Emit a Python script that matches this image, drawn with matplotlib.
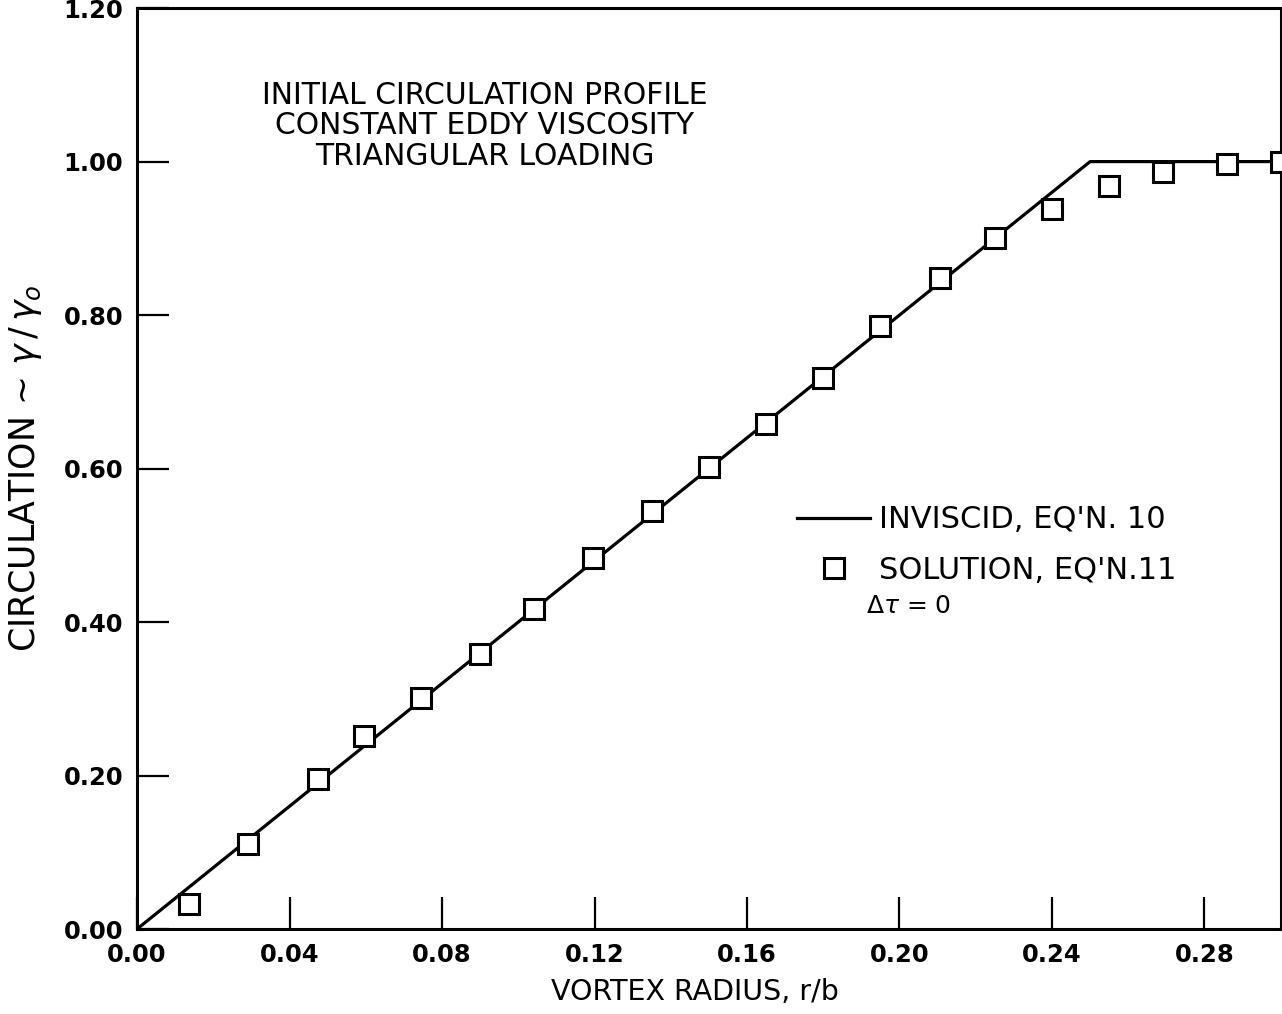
import matplotlib
matplotlib.use("Agg")
import matplotlib.pyplot as plt

# inviscid solution (eq'n 10): linear ramp then constant
inviscid_r = [0.0, 0.25, 0.30]
inviscid_gamma = [0.0, 1.0, 1.0]

# numerical solution (eq'n 11)
solution_r = [0.0135, 0.029, 0.0475, 0.0595, 0.0745, 0.09, 0.104, 0.1195, 0.135,
              0.150, 0.165, 0.180, 0.195, 0.2105, 0.225, 0.240, 0.255, 0.269,
              0.286, 0.300]
solution_gamma = [0.032, 0.111, 0.195, 0.252, 0.301, 0.358, 0.417, 0.483, 0.545,
                  0.602, 0.658, 0.718, 0.786, 0.848, 0.900, 0.938, 0.968, 0.986,
                  0.997, 1.000]

x_ticks = [0.00, 0.04, 0.08, 0.12, 0.16, 0.20, 0.24, 0.28]
y_ticks = [0.00, 0.20, 0.40, 0.60, 0.80, 1.00, 1.20]

plt.rcParams["font.family"] = ["DejaVu Sans"]

fig = plt.figure(figsize=(12.82, 10.14), dpi=100)
ax = fig.add_axes([0.1069, 0.0838, 0.8921, 0.9082])

ax.plot(inviscid_r, inviscid_gamma, color="black", lw=2.3,
        label="INVISCID, EQ'N. 10", zorder=2)
ax.plot(solution_r, solution_gamma, linestyle="none", marker="s", ms=14,
        mfc="white", mec="black", mew=2.2, clip_on=False,
        label="SOLUTION, EQ'N.11", zorder=3)

ax.set_xlim(0, 0.30)
ax.set_ylim(0, 1.2)
ax.set_xticks(x_ticks)
ax.set_yticks(y_ticks)
ax.set_xticklabels([f"{v:.2f}" for v in x_ticks])
ax.set_yticklabels([f"{v:.2f}" for v in y_ticks])
ax.tick_params(direction="in", length=23, width=1.6, labelsize=17.5, pad=10)
for lbl in ax.get_xticklabels() + ax.get_yticklabels():
    lbl.set_fontweight("bold")

for sp in ax.spines.values():
    sp.set_linewidth(2.2)

ax.set_xlabel("VORTEX RADIUS, r/b", fontsize=20.5)
ax.xaxis.set_label_coords(0.488, -0.053)
ax.set_ylabel(r"CIRCULATION ~ $\gamma\,/\,\gamma_o$", fontsize=25)
ax.yaxis.set_label_coords(-0.081, 0.5)

ax.text(0.304, 0.921, "INITIAL CIRCULATION PROFILE\nCONSTANT EDDY VISCOSITY\nTRIANGULAR LOADING",
        transform=ax.transAxes, ha="center", va="top", fontsize=21.5,
        linespacing=1.07)

leg = ax.legend(loc="upper left", bbox_to_anchor=(0.553, 0.49), frameon=False,
                fontsize=22, handlelength=2.4, handletextpad=0.3,
                labelspacing=0.7)

ax.text(0.637, 0.351, r"$\Delta\tau$ = 0", transform=ax.transAxes,
        fontsize=18, ha="left", va="center")

fig.savefig("out.png", dpi=100)
